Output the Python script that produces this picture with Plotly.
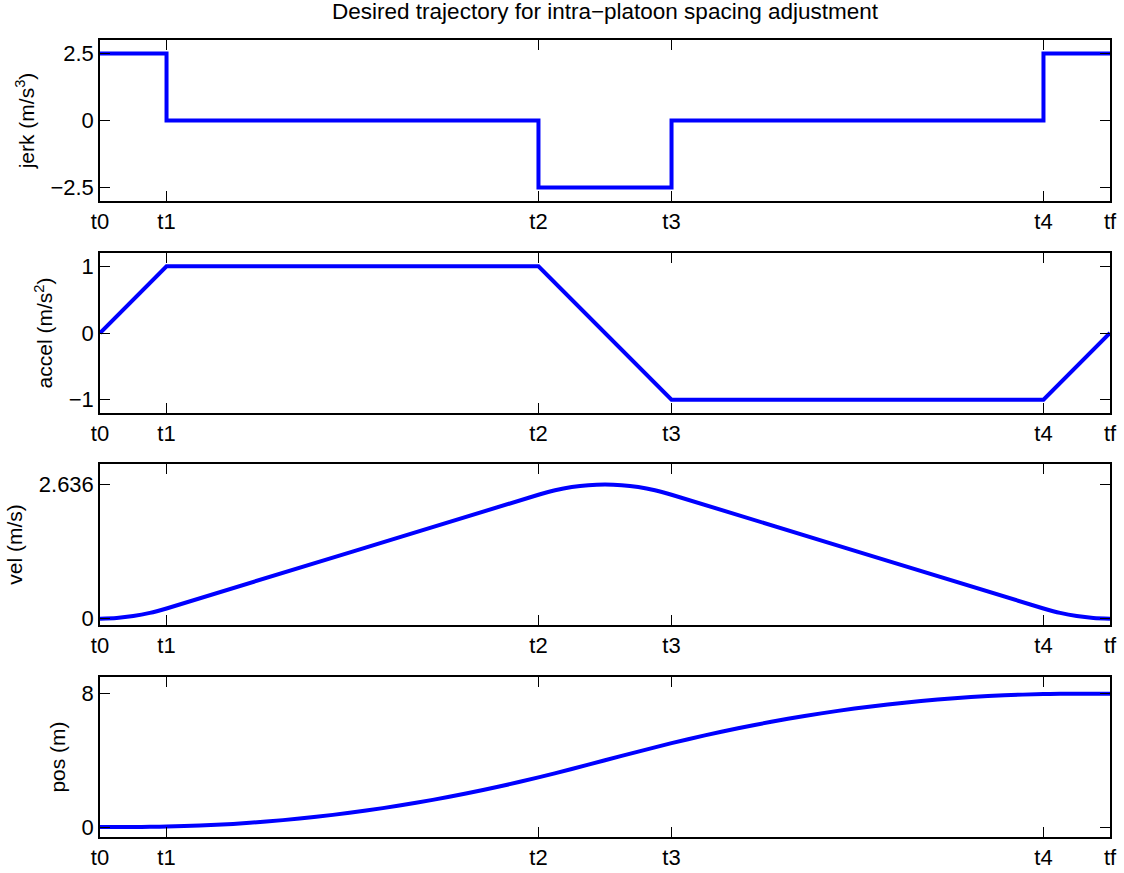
import plotly.graph_objects as go
from plotly.subplots import make_subplots

# ---- data ----
t_ticks = [0, 0.4, 2.636, 3.436, 5.672, 6.072]
t_labels = ["t0", "t1", "t2", "t3", "t4", "tf"]

jerk_t = [0, 0.4, 2.636, 3.436, 5.672, 6.072]
jerk_vals = [2.5, 0, -2.5, 0, 2.5, 2.5]

accel_t = [0, 0.4, 2.636, 3.436, 5.672, 6.072]
accel_vals = [0, 1, 1, -1, -1, 0]

vel_t = [0, 0.1, 0.2, 0.3, 0.4, 2.636, 2.736, 2.836, 2.936, 3.036, 3.136,
         3.236, 3.336, 3.436, 5.672, 5.772, 5.872, 5.972, 6.072]
vel_vals = [0, 0.0125, 0.05, 0.1125, 0.2, 2.436, 2.5235, 2.586, 2.6235, 2.636,
            2.6235, 2.586, 2.5235, 2.436, 0.2, 0.1125, 0.05, 0.0125, 0]

pos_t = [0, 0.1, 0.2, 0.3, 0.4, 0.6, 0.8, 1.0, 1.2, 1.4, 1.6, 1.8, 2.0, 2.2,
         2.4, 2.636, 2.836, 3.036, 3.236, 3.436, 3.636, 3.836, 4.036, 4.236,
         4.436, 4.636, 4.836, 5.036, 5.236, 5.436, 5.672, 5.772, 5.872, 5.972, 6.072]
pos_vals = [0, 0.0004, 0.0033, 0.0113, 0.0267, 0.0867, 0.1867, 0.3267, 0.5067,
            0.7267, 0.9867, 1.2867, 1.6267, 2.0067, 2.4267, 2.9737, 3.4776,
            4.0014, 4.5253, 5.0292, 5.4964, 5.9236, 6.3108, 6.658, 6.9652,
            7.2324, 7.4596, 7.6468, 7.794, 7.9012, 7.9763, 7.9918, 7.9997,
            8.0, 8.0]

panels = [
    dict(x=jerk_t, y=jerk_vals, shape="hv", label="jerk (m/s<sup>3</sup>)",
         tickvals=[-2.5, 0, 2.5], ticktext=["\u22122.5", "0", "2.5"], yr=[-3, 3]),
    dict(x=accel_t, y=accel_vals, shape="linear", label="accel (m/s<sup>2</sup>)",
         tickvals=[-1, 0, 1], ticktext=["\u22121", "0", "1"], yr=[-1.2, 1.2]),
    dict(x=vel_t, y=vel_vals, shape="spline", label="vel (m/s)",
         tickvals=[0, 2.636], ticktext=["0", "2.636"], yr=[-0.125, 3.04]),
    dict(x=pos_t, y=pos_vals, shape="spline", label="pos (m)",
         tickvals=[0, 8], ticktext=["0", "8"], yr=[-0.6, 9.0]),
]

fig = make_subplots(rows=4, cols=1, vertical_spacing=0.065)
domains = [[0.798, 1.0], [0.532, 0.7327], [0.266, 0.468], [0.0, 0.2008]]

FONT = "Liberation Sans, Arial, Helvetica, sans-serif"
for i, p in enumerate(panels, start=1):
    line = dict(color="#0000ff", width=4, shape=p["shape"])
    if p["shape"] == "spline":
        line["smoothing"] = 0.8
    fig.add_trace(go.Scatter(x=p["x"], y=p["y"], mode="lines", line=line,
                             showlegend=False, hoverinfo="skip"), row=i, col=1)
    fig.update_xaxes(row=i, col=1, range=[0, 6.072], tickvals=t_ticks, ticktext=t_labels,
                     ticks="inside", ticklen=10, tickcolor="#000", tickwidth=1,
                     showline=True, linecolor="#000", linewidth=1.5, mirror="allticks",
                     showgrid=False, zeroline=False, automargin=False,
                     tickfont=dict(family=FONT, size=22, color="#000"))
    fig.update_yaxes(row=i, col=1, range=p["yr"], tickvals=p["tickvals"], ticktext=p["ticktext"],
                     ticks="inside", ticklen=10, tickcolor="#000", tickwidth=1,
                     showline=True, linecolor="#000", linewidth=1.5, mirror="allticks",
                     showgrid=False, zeroline=False, domain=domains[i - 1], automargin=False,
                     tickfont=dict(family=FONT, size=22, color="#000"),
                     title=dict(text=p["label"], font=dict(family=FONT, size=21, color="#000"),
                                standoff=10))

fig.update_layout(
    width=1124, height=873,
    margin=dict(l=100, r=14, t=40, b=36, autoexpand=False),
    paper_bgcolor="white", plot_bgcolor="white",
    title=dict(text="Desired trajectory for intra\u2212platoon spacing adjustment",
               x=0.5383, xanchor="center", y=0.987, yanchor="middle",
               font=dict(family=FONT, size=22.5, color="#000")),
)

fig.write_html("out.html", config={"displayModeBar": False},
               post_script="document.body.style.margin='0';document.body.style.overflow='hidden';")
